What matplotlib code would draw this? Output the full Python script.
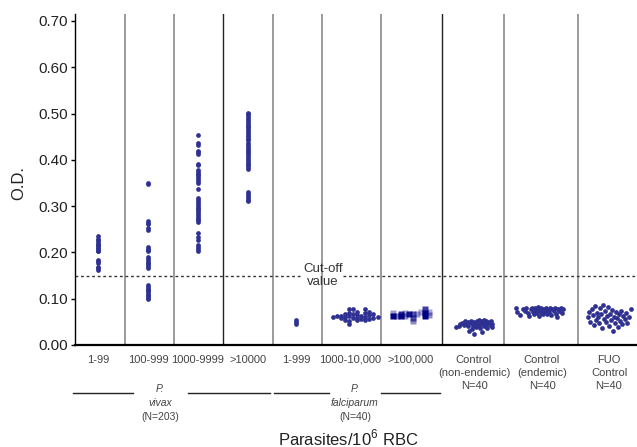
import numpy as np
import matplotlib
matplotlib.use('Agg')
import matplotlib.pyplot as plt

plt.rcParams['font.family'] = ['Liberation Sans', 'DejaVu Sans']
plt.rcParams['mathtext.fontset'] = 'custom'
plt.rcParams['mathtext.rm'] = 'Liberation Sans'

# categories (x positions are in the axes' own units)
tick_labels = ['1-99', '100-999', '1000-9999', '>10000', '1-999', '1000-10,000', '>100,000',
               'Control\n(non-endemic)\nN=40', 'Control\n(endemic)\nN=40', 'FUO\nControl\nN=40']
centers = [23, 73, 123, 173, 221, 275, 336, 399, 467, 534]
dividers = [50, 99, 148, 198, 247, 306, 367, 429, 503]
divider_dark = [False, False, True, False, False, False, True, False, False]
cutoff = 0.15

# P. vivax groups (single columns)
vivax_1_99 = [0.235, 0.230, 0.227, 0.222, 0.219, 0.216, 0.213, 0.210, 0.207, 0.204, 0.202,
              0.184, 0.181, 0.178, 0.169, 0.166, 0.162]
vivax_100_999 = [0.351, 0.347, 0.268, 0.264, 0.261, 0.252, 0.248, 0.212, 0.208, 0.205, 0.202,
                 0.190, 0.186, 0.182, 0.178, 0.174, 0.170, 0.167, 0.130, 0.126, 0.122, 0.119,
                 0.116, 0.112, 0.109, 0.105, 0.102, 0.099]
vivax_1000_9999 = [0.454, 0.437, 0.432, 0.420, 0.416, 0.412, 0.392, 0.388, 0.378, 0.374, 0.370,
                   0.367, 0.363, 0.359, 0.355, 0.351, 0.338, 0.317, 0.313, 0.309, 0.305, 0.301,
                   0.297, 0.293, 0.289, 0.285, 0.281, 0.277, 0.273, 0.269, 0.265, 0.243, 0.234,
                   0.227, 0.216, 0.212, 0.208, 0.204]
vivax_10000 = [0.502, 0.498, 0.494, 0.490, 0.486, 0.482, 0.478, 0.474, 0.470, 0.466, 0.462,
               0.458, 0.454, 0.450, 0.446, 0.442, 0.436, 0.432, 0.428, 0.424, 0.420, 0.416,
               0.412, 0.408, 0.404, 0.400, 0.396, 0.392, 0.388, 0.384, 0.380,
               0.330, 0.326, 0.322, 0.318, 0.314, 0.310]

# P. falciparum
falc_1_999 = [0.046, 0.050, 0.053]
falc_mid_dx = [-20, -16, -12, -12, -8, -8, -8, -4, -4, -4, -4, -4, 0, 0, 0, 4, 4, 4, 4, 8, 8,
               12, 12, 12, 12, 16, 16, 16, 20, 20, 25]
falc_mid_y = [0.060, 0.062, 0.058, 0.063, 0.067, 0.060, 0.054, 0.077, 0.070, 0.062, 0.052, 0.045,
              0.077, 0.067, 0.058, 0.072, 0.065, 0.059, 0.053, 0.063, 0.057, 0.077, 0.069, 0.061,
              0.054, 0.072, 0.064, 0.057, 0.066, 0.058, 0.060]
falc_hi_dx = [-18, -18, -14, -10, -10, -6, -6, -2, 2, 2, 2, 6, 10, 14, 14, 14, 18, 18]
falc_hi_y = [0.063, 0.070, 0.063, 0.068, 0.062, 0.062, 0.070, 0.068, 0.066, 0.058, 0.052,
             0.068, 0.072, 0.070, 0.063, 0.077, 0.065, 0.072]
falc_hi_shade = [1.0, 0.25, 0.35, 0.7, 0.8, 0.3, 0.2, 0.75, 0.5, 0.45, 0.3, 0.25, 0.2, 1.0, 1.0,
                 0.6, 0.3, 0.2]

# controls
ctrl_ne_dx = [-18, -14, -12, -10, -8, -6, -6, -5, -3, -3, -2, -1, 0, 0, 1, 2, 3, 4, 4, 5, 6, 6,
              7, 8, 8, 9, 10, 10, 11, 12, 12, 13, 14, 15, 16, 17, 18, 18, -15, -9]
ctrl_ne_y = [0.038, 0.045, 0.047, 0.043, 0.046, 0.050, 0.040, 0.030, 0.047, 0.052, 0.035, 0.042,
             0.049, 0.024, 0.045, 0.038, 0.051, 0.047, 0.043, 0.053, 0.049, 0.036, 0.045, 0.051,
             0.029, 0.047, 0.054, 0.042, 0.049, 0.052, 0.045, 0.037, 0.050, 0.047, 0.043, 0.051,
             0.046, 0.038, 0.041, 0.051]
ctrl_en_dx = [-23, -22, -19, -16, -14, -13, -11, -10, -8, -7, -6, -5, -4, -3, -2, -1, 0, 0, 1, 2,
              3, 4, 5, 6, 7, 8, 9, 10, 11, 12, 13, 15, 16, 17, 18, 19, 20, 22, 23, 24]
ctrl_en_y = [0.081, 0.071, 0.064, 0.078, 0.074, 0.081, 0.070, 0.063, 0.077, 0.081, 0.072, 0.066,
             0.079, 0.075, 0.069, 0.082, 0.077, 0.062, 0.073, 0.080, 0.070, 0.066, 0.078, 0.074,
             0.081, 0.068, 0.076, 0.072, 0.080, 0.064, 0.077, 0.073, 0.081, 0.068, 0.061, 0.078,
             0.074, 0.081, 0.070, 0.077]
fuo_dx = [-21, -20, -19, -17, -16, -15, -14, -13, -12, -11, -10, -9, -8, -7, -6, -5, -4, -3, -2,
          -1, 0, 1, 2, 3, 4, 5, 6, 7, 8, 9, 10, 11, 12, 13, 14, 16, 17, 18, 20, 22]
fuo_y = [0.060, 0.071, 0.050, 0.078, 0.064, 0.043, 0.085, 0.055, 0.070, 0.060, 0.047, 0.079,
         0.066, 0.036, 0.086, 0.057, 0.073, 0.050, 0.063, 0.082, 0.040, 0.068, 0.055, 0.076,
         0.031, 0.061, 0.047, 0.071, 0.058, 0.039, 0.066, 0.052, 0.074, 0.045, 0.062, 0.056,
         0.069, 0.048, 0.061, 0.077]

dot = '#2e3192'
txt = '#333333'

fig = plt.figure(figsize=(6.37, 4.47), dpi=100)
ax = fig.add_axes([75 / 637, 102 / 447, 562 / 637, 331 / 447])
ax.set_xlim(0, 562)
ax.set_ylim(0, 0.715)

for d, dark in zip(dividers, divider_dark):
    ax.axvline(d, color='#222222' if dark else '#8a8a8a', lw=1.0 if dark else 1.2, zorder=1)

# cut-off line, broken where the label sits
ax.plot([0, 226], [cutoff, cutoff], color=txt, lw=1, ls=(0, (2, 2)), zorder=2)
ax.plot([268, 562], [cutoff, cutoff], color=txt, lw=1, ls=(0, (2, 2)), zorder=2)
ax.text(248, cutoff, 'Cut-off\nvalue', ha='center', va='center', fontsize=9.5, color=txt,
        linespacing=1.15)

ms = 3.4
for c, ys in zip(centers[:5], [vivax_1_99, vivax_100_999, vivax_1000_9999, vivax_10000, falc_1_999]):
    ax.plot(np.full(len(ys), c), ys, 'o', color=dot, ms=ms, mec='none', zorder=3)
ax.plot(np.array(falc_mid_dx) + 278, falc_mid_y, 'o', color=dot, ms=ms, mec='none', zorder=3)
for dx, y, s in zip(falc_hi_dx, falc_hi_y, falc_hi_shade):
    ax.plot(336 + dx, y, 's', color='#000080', alpha=min(1, s + 0.15), ms=4.6, mec='none',
            zorder=3)
ax.plot(np.array(ctrl_ne_dx) + 399, ctrl_ne_y, 'o', color=dot, ms=ms, mec='none', zorder=3)
ax.plot(np.array(ctrl_en_dx) + 464, ctrl_en_y, 'o', color=dot, ms=ms, mec='none', zorder=3)
ax.plot(np.array(fuo_dx) + 534, fuo_y, 'o', color=dot, ms=ms, mec='none', zorder=3)

ax.spines['top'].set_visible(False)
ax.spines['right'].set_visible(False)
ax.spines['left'].set_linewidth(1.0)
ax.spines['bottom'].set_linewidth(1.6)
ax.set_yticks(np.arange(0, 0.71, 0.1))
ax.set_yticklabels(['%.2f' % v for v in np.arange(0, 0.71, 0.1)], fontsize=11, color='#222222')
ax.tick_params(axis='y', direction='out', length=3, width=1, pad=2)
ax.set_xticks(centers)
ax.set_xticklabels(tick_labels, fontsize=8, color='#444444', linespacing=1.4)
ax.tick_params(axis='x', length=0, pad=7)

# species brackets under the axis
tr = ax.get_xaxis_transform()
yl = -0.145
for x0, x1 in [(-2, 58), (113, 195), (199, 254), (306, 365)]:
    ax.plot([x0, x1], [yl, yl], color='#222222', lw=1, transform=tr, clip_on=False)
for xc, name, n in [(85, 'vivax', '(N=203)'), (280, 'falciparum', '(N=40)')]:
    ax.text(xc, -0.133, 'P.', style='italic', fontsize=7.5, color='#444444', ha='center',
            va='center', transform=tr)
    ax.text(xc, -0.175, name, style='italic', fontsize=7.5, color='#444444', ha='center',
            va='center', transform=tr)
    ax.text(xc, -0.2175, n, fontsize=7.5, color='#444444', ha='center', va='center', transform=tr)

fig.text(19 / 637, 1 - 183 / 447, 'O.D.', rotation=90, ha='center', va='center', fontsize=12,
         color='#222222')
fig.text(348 / 637, 1 - 438 / 447, 'Parasites/10$^{6}$ RBC', ha='center', va='center',
         fontsize=12, color='#222222')

fig.savefig('out.png', dpi=100)
